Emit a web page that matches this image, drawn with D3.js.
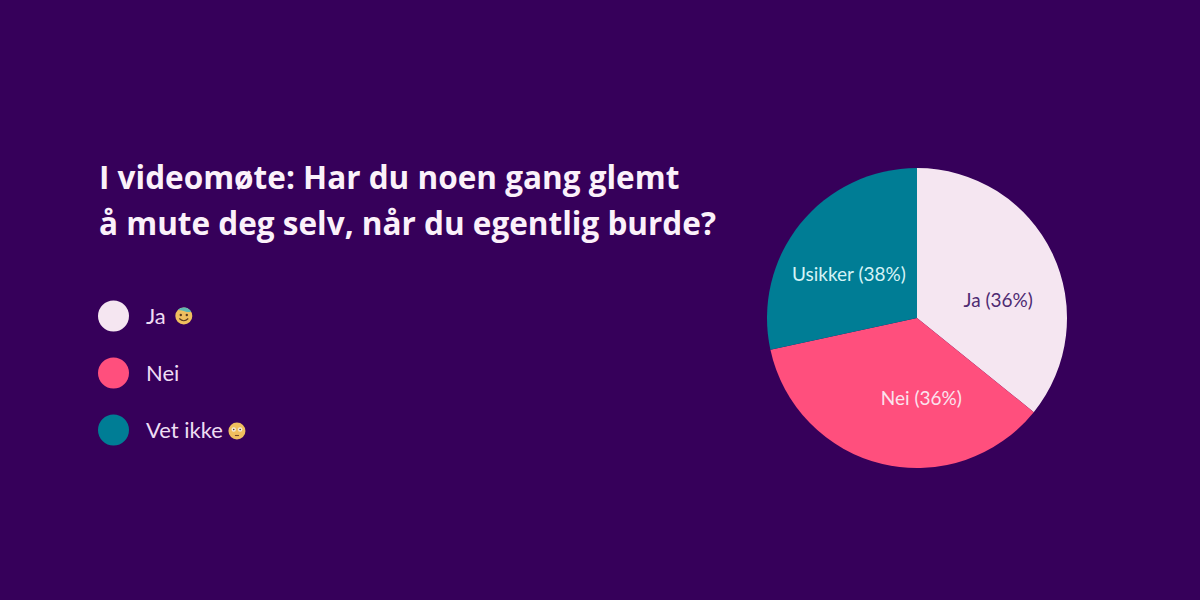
<!DOCTYPE html>
<html>
<head>
<meta charset="utf-8">
<script src="https://cdn.jsdelivr.net/npm/d3@7"></script>
<style>
  html, body { margin: 0; padding: 0; background: #36005a; }
  svg { display: block; }
  text { font-family: Lato, "Open Sans", sans-serif; }
</style>
</head>
<body>
<svg id="chart" width="1200" height="600"></svg>
<script>
// ============ data ============
const titleLines = ['I videomøte: Har du noen gang glemt', 'å mute deg selv, når du egentlig burde?'];
const legendLabels = ['Ja', 'Nei', 'Vet ikke'];
const legendEmoji = ['sweat', null, 'flushed'];
const sliceNames = ['Ja', 'Nei', 'Usikker'];
const sliceValues = [35.8, 35.8, 28.4]; // slice size as drawn
const slicePrinted = [36, 36, 38];      // the percentage printed on the label (differs from the drawn slice)
const sliceColors = ['#f5e6f1', '#ff4f7d', '#007d95'];
const labelColors = ['#4e2a72', '#fbe3ee', '#d5f3f6'];

const svg = d3.select('#chart');
svg.append('rect').attr('width', 1200).attr('height', 600).attr('fill', '#36005a');

// ============ title ============
svg.append('g').selectAll('text')
  .data(titleLines)
  .join('text')
  .attr('x', 99)
  .attr('y', (d, i) => 189 + i * 46)
  .attr('font-family', '"Open Sans", sans-serif')
  .attr('font-size', 31.5)
  .attr('font-weight', 700)
  .style('font-family', '"Open Sans", sans-serif')
  .attr('fill', '#fbf1fa')
  .text(d => d);

// ============ legend ============
const legendY = d3.scalePoint().domain(legendLabels).range([316, 430]);
const emojiGap = [18, 0, 14];

const legend = svg.append('g').selectAll('g')
  .data(legendLabels)
  .join('g')
  .attr('transform', d => `translate(0,${legendY(d)})`);

legend.append('circle')
  .attr('cx', 113.5)
  .attr('r', 15.5)
  .attr('fill', (d, i) => sliceColors[i]);

const legendText = legend.append('text')
  .attr('x', 146)
  .attr('y', 8)
  .attr('font-size', 22)
  .attr('fill', '#eeddf3')
  .text(d => d);

// small faces drawn after the label, since no emoji font is installed
legendText.each(function (d, i) {
  const kind = legendEmoji[i];
  if (!kind) return;
  const g = d3.select(this.parentNode).append('g')
    .attr('transform', `translate(${146 + this.getComputedTextLength() + emojiGap[i]},${kind === 'flushed' ? 1 : 0})`);
  g.append('circle').attr('r', 8.5).attr('fill', '#f0bf5e');
  if (kind === 'sweat') {
    g.append('path').attr('d', 'M-6,-6 A8.5,8.5 0 0 1 7.5,-4 L3,-4 Q-2,-6 -6,-6Z').attr('fill', '#5fb8b5');
    g.append('circle').attr('cx', -3).attr('cy', -1).attr('r', 1.2).attr('fill', '#5a3a20');
    g.append('circle').attr('cx', 3).attr('cy', -1).attr('r', 1.2).attr('fill', '#5a3a20');
    g.append('path').attr('d', 'M-4.5,2.5 Q0,7 4.5,2.5').attr('fill', 'none').attr('stroke', '#5a3a20').attr('stroke-width', 1.1);
  } else {
    g.append('circle').attr('cx', -3.2).attr('cy', -1.5).attr('r', 2.2).attr('fill', '#f3ead8');
    g.append('circle').attr('cx', 3.2).attr('cy', -1.5).attr('r', 2.2).attr('fill', '#f3ead8');
    g.append('circle').attr('cx', -3.2).attr('cy', -1.5).attr('r', 0.8).attr('fill', '#5a3a20');
    g.append('circle').attr('cx', 3.2).attr('cy', -1.5).attr('r', 0.8).attr('fill', '#5a3a20');
    g.append('path').attr('d', 'M-2,4.5 L2,4.5').attr('fill', 'none').attr('stroke', '#7a4a28').attr('stroke-width', 1.1);
  }
});

// ============ pie ============
const cx = 917, cy = 318, radius = 150;
const arcs = d3.pie().sort(null)(sliceValues);
const arc = d3.arc().innerRadius(0).outerRadius(radius);
const labelArc = d3.arc().innerRadius(90).outerRadius(90);
const labelNudge = [[0, 21], [25, -7], [2, 13]];

const pie = svg.append('g').attr('transform', `translate(${cx},${cy})`);

pie.selectAll('path')
  .data(arcs)
  .join('path')
  .attr('d', arc)
  .attr('fill', (d, i) => sliceColors[i]);

pie.selectAll('text')
  .data(arcs)
  .join('text')
  .attr('transform', (d, i) => {
    const [x, y] = labelArc.centroid(d);
    return `translate(${x + labelNudge[i][0]},${y + labelNudge[i][1]})`;
  })
  .attr('text-anchor', 'middle')
  .attr('dy', '0.35em')
  .attr('font-size', 19)
  .attr('fill', (d, i) => labelColors[i])
  .text((d, i) => `${sliceNames[i]} (${slicePrinted[i]}%)`);
</script>
</body>
</html>
